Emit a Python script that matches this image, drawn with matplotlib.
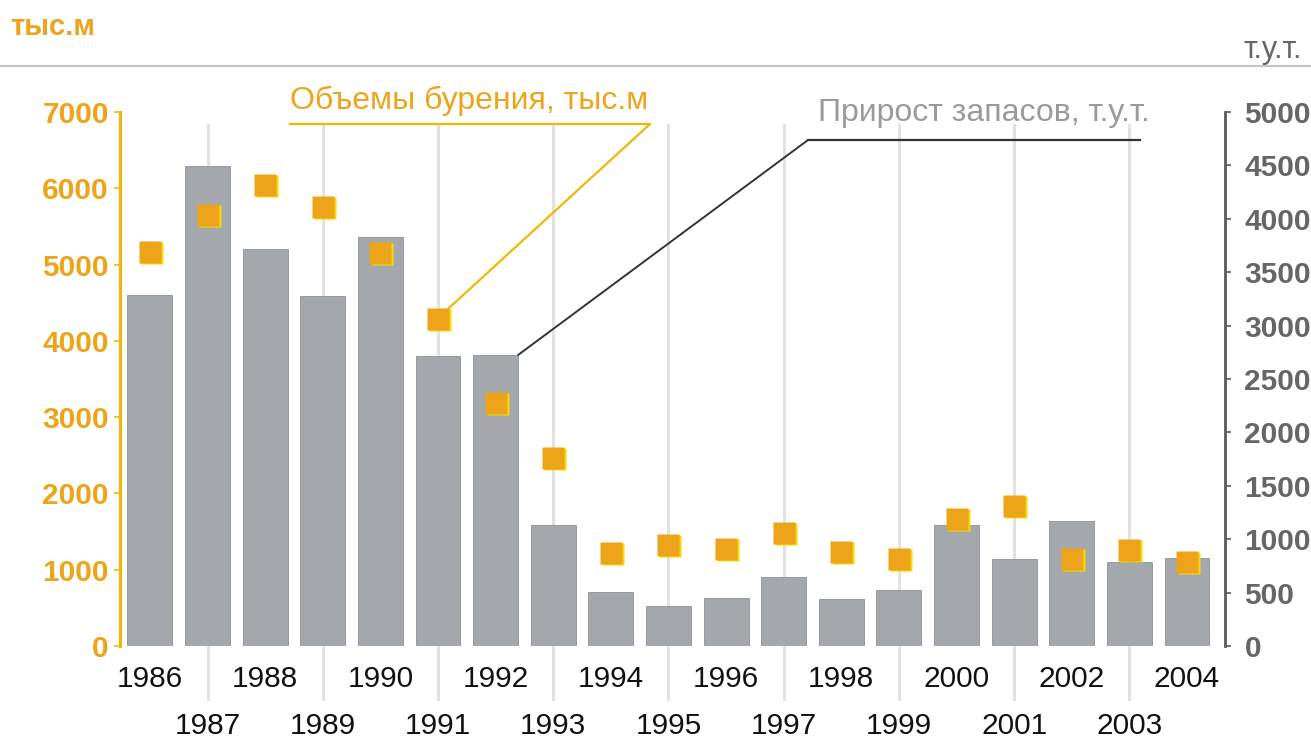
import numpy as np
import matplotlib.pyplot as plt
from matplotlib.lines import Line2D
from matplotlib.transforms import offset_copy, blended_transform_factory

plt.rcParams['font.family'] = ['Liberation Sans', 'DejaVu Sans']

years = list(range(1986, 2005))
# прирост запасов, т.у.т. (правая ось)
reserves = [3290, 4490, 3720, 3280, 3825, 2715, 2725, 1130, 510, 375,
            450, 650, 440, 525, 1135, 810, 1175, 790, 825]
# объемы бурения, тыс.м (левая ось)
drilling = [5160, 5650, 6040, 5750, 5150, 4290, 3190, 2470, 1220, 1320,
            1270, 1480, 1230, 1140, 1670, 1840, 1140, 1260, 1100]
left_ticks = [0, 1000, 2000, 3000, 4000, 5000, 6000, 7000]
right_ticks = [0, 500, 1000, 1500, 2000, 2500, 3000, 3500, 4000, 4500, 5000]

ORANGE = '#EEA41A'
GOLD = '#F2B705'
BAR = '#A4A8AC'
DARK = '#5A5A5A'

W, H = 1311, 756
fig = plt.figure(figsize=(W / 100, H / 100), dpi=100)
ax = fig.add_axes([120 / W, 1 - 646 / H, 1105 / W, 534 / H])
ax2 = ax.twinx()

x = np.array(years)

# vertical guide lines on odd years, behind everything
for yr in years[1::2]:
    ax.plot([yr, yr], [-0.10, 0.975], color='#E2E2E2', lw=2.2, zorder=0,
            transform=blended_transform_factory(ax.transData, ax.transAxes),
            clip_on=False)

ax.bar(x, reserves, width=0.78, color=BAR, edgecolor='#8E9297', linewidth=0.6, zorder=2)
ax.set_ylim(0, 5000)
ax.set_xlim(1985.48, 2004.66)

# squares with a slight yellow misprint shadow
shadow = offset_copy(ax2.transData, fig=fig, x=2, y=-1, units='dots')
ax2.plot(x, drilling, 's', ms=16, color='#F5DC00', mec='none', transform=shadow, zorder=3)
ax2.plot(x, drilling, 's', ms=16, color=ORANGE, mec='none', zorder=4)
ax2.set_ylim(0, 7000)

# right axis (bars)
ax.yaxis.tick_right()
ax.set_yticks(right_ticks)
ax.set_yticklabels([str(v) for v in right_ticks], fontsize=21.5, fontweight='bold', color='#666666')
ax.tick_params(axis='y', direction='out', length=4, width=1.2, color=DARK, pad=10)
ax.tick_params(axis='x', bottom=False, labelbottom=False)
for s in ['top', 'bottom', 'left']:
    ax.spines[s].set_visible(False)
ax.spines['right'].set_color(DARK)
ax.spines['right'].set_linewidth(2)
ax.spines['right'].set_bounds(0, 5000)

# left axis (squares)
ax2.yaxis.tick_left()
ax2.set_yticks(left_ticks)
ax2.set_yticklabels([str(v) for v in left_ticks], fontsize=21.5, fontweight='bold', color=ORANGE)
ax2.tick_params(axis='y', direction='out', length=4, width=1.2, color=GOLD, pad=4)
for s in ['top', 'bottom', 'right']:
    ax2.spines[s].set_visible(False)
ax2.spines['left'].set_color(GOLD)
ax2.spines['left'].set_linewidth(2.2)
ax2.spines['left'].set_bounds(0, 7000)

# staggered year labels
lab = blended_transform_factory(ax.transData, ax.transAxes)
for i, yr in enumerate(years):
    yy = -0.062 if i % 2 == 0 else -0.150
    ax.text(yr, yy, str(yr), transform=lab, ha='center', va='center',
            fontsize=21.5, color='#111111')

# header
fig.add_artist(Line2D([0, 1], [1 - 66 / H, 1 - 66 / H], transform=fig.transFigure,
                      color='#C4C4C4', lw=1.6))
fig.text(10 / W, 1 - 27 / H, 'тыс.м', fontsize=21, fontweight='bold', color=ORANGE,
         ha='left', va='center')
fig.text(1302 / W, 1 - 50 / H, 'т.у.т.', fontsize=22, color='#666666',
         ha='right', va='center')

# callouts
fig.text(290 / W, 1 - 101 / H, 'Объемы бурения, тыс.м', fontsize=23, color=ORANGE,
         ha='left', va='center')
fig.add_artist(Line2D([290 / W, 650 / W], [1 - 124 / H, 1 - 124 / H],
                      transform=fig.transFigure, color=GOLD, lw=1.6))
corner = offset_copy(ax2.transData, fig=fig, x=8, y=8, units='dots')
ax2.annotate('', xy=(years[5], drilling[5]), xycoords=corner,
             xytext=(650, H - 124), textcoords='figure pixels',
             arrowprops=dict(arrowstyle='-', color=GOLD, lw=1.6, shrinkA=0, shrinkB=0))

fig.text(1150 / W, 1 - 113 / H, 'Прирост запасов, т.у.т.', fontsize=23, color='#9A9A9A',
         ha='right', va='center')
fig.add_artist(Line2D([808 / W, 1140 / W], [1 - 140 / H, 1 - 140 / H],
                      transform=fig.transFigure, color='#333333', lw=1.6))
ax.annotate('', xy=(years[6] + 0.39, reserves[6]), xycoords='data',
            xytext=(808, H - 140), textcoords='figure pixels',
            arrowprops=dict(arrowstyle='-', color='#333333', lw=1.4, shrinkA=0, shrinkB=0))

fig.savefig('out.png', dpi=100)
